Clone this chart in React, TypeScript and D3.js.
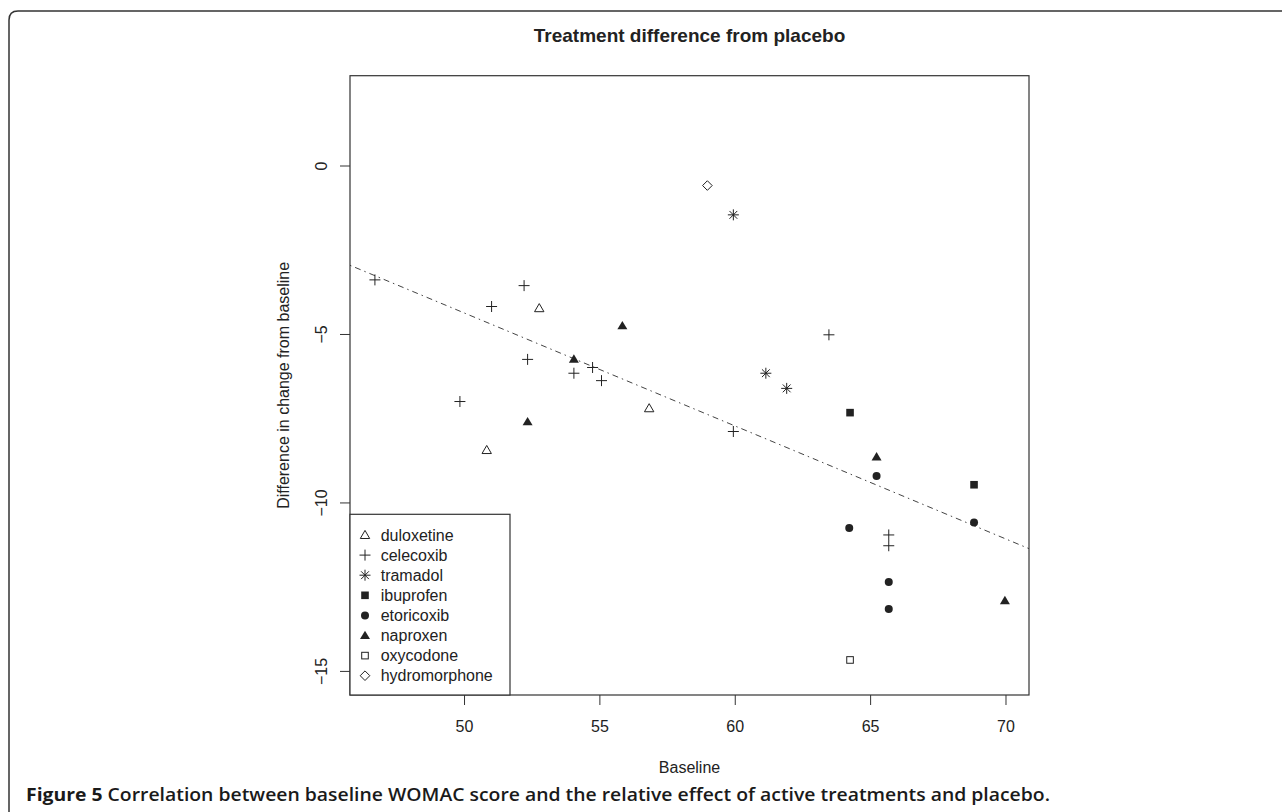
import * as d3 from 'd3';

// plot limits (R style, 4% padding already included)
const xLim = [45.77, 70.85];
const yLim = [-15.7, 2.68];
const xTicks = [50, 55, 60, 65, 70];
const yTicks = [0, -5, -10, -15];

// fitted line  y = a + b * x
const fitIntercept = 12.4;
const fitSlope = -0.3353;

const seriesNames = ['duloxetine', 'celecoxib', 'tramadol', 'ibuprofen', 'etoricoxib', 'naproxen', 'oxycodone', 'hydromorphone'];
const seriesShapes = ['triangleOpen', 'plus', 'asterisk', 'squareFilled', 'circleFilled', 'triangleFilled', 'squareOpen', 'diamondOpen'];

const duloxetine = [[52.76, -4.22], [56.82, -7.19], [50.82, -8.43]];
const celecoxib = [
  [46.69, -3.38], [51.0, -4.17], [52.2, -3.55], [52.33, -5.74], [54.04, -6.15],
  [54.73, -5.98], [55.06, -6.37], [49.83, -6.99], [63.46, -5.01], [59.93, -7.88],
  [65.67, -10.95], [65.67, -11.27],
];
const tramadol = [[59.93, -1.45], [61.13, -6.15], [61.9, -6.6]];
const ibuprofen = [[64.24, -7.32], [68.82, -9.46]];
const etoricoxib = [[65.22, -9.2], [68.82, -10.58], [64.21, -10.74], [65.67, -12.35], [65.67, -13.15]];
const naproxen = [[55.83, -4.74], [54.04, -5.73], [52.33, -7.59], [65.22, -8.63], [69.96, -12.9]];
const oxycodone = [[64.24, -14.66]];
const hydromorphone = [[58.97, -0.58]];

const seriesData = [duloxetine, celecoxib, tramadol, ibuprofen, etoricoxib, naproxen, oxycodone, hydromorphone];

const INK = '#222';
const PLOT = { left: 350, right: 1029, top: 75.7, bottom: 695 };

function Marker({ shape, x, y }: { shape: string; x: number; y: number }) {
  const t = `translate(${x},${y})`;
  switch (shape) {
    case 'triangleOpen':
      return <path transform={t} d="M0,-4.6L4.7,3.5L-4.7,3.5Z" fill="none" stroke={INK} strokeWidth={1} />;
    case 'triangleFilled':
      return <path transform={t} d="M0,-4.8L5,3.6L-5,3.6Z" fill={INK} />;
    case 'plus':
      return <path transform={t} d="M-5.5,0H5.5M0,-5.5V5.5" stroke={INK} strokeWidth={1} fill="none" />;
    case 'asterisk':
      return (
        <path
          transform={t}
          d="M-5.5,0H5.5M0,-5.5V5.5M-3.9,-3.9L3.9,3.9M-3.9,3.9L3.9,-3.9"
          stroke={INK}
          strokeWidth={1}
          fill="none"
        />
      );
    case 'squareFilled':
      return <rect x={x - 3.8} y={y - 3.8} width={7.6} height={7.6} fill={INK} />;
    case 'squareOpen':
      return <rect x={x - 3.3} y={y - 3.3} width={6.6} height={6.6} fill="none" stroke={INK} strokeWidth={1} />;
    case 'circleFilled':
      return <circle cx={x} cy={y} r={4} fill={INK} />;
    case 'diamondOpen':
      return <path transform={t} d="M0,-4.8L4.8,0L0,4.8L-4.8,0Z" fill="none" stroke={INK} strokeWidth={1} />;
    default:
      return null;
  }
}

export default function App() {
  const x = d3.scaleLinear().domain(xLim).range([PLOT.left, PLOT.right]);
  const y = d3.scaleLinear().domain(yLim).range([PLOT.bottom, PLOT.top]);

  const fitLine = d3.line<number>()
    .x(v => x(v))
    .y(v => y(fitIntercept + fitSlope * v));

  const fmt = (v: number) => (v < 0 ? '\u2212' + Math.abs(v) : String(v));
  const font = '"Liberation Sans", Arial, sans-serif';

  const legend = { left: PLOT.left, top: 514.3, right: 510, bottom: PLOT.bottom, row: 20.1 };

  return (
    <svg
      width={1282}
      height={812}
      style={{ position: 'absolute', left: 0, top: 0, background: '#fff' }}
      fontFamily={font}
    >
      <rect width={1282} height={812} fill="#fff" />
      {/* figure frame */}
      <path d="M9,812V20Q9,11 18,11H1282" fill="none" stroke="#333" strokeWidth={1.5} />

      <text x={(PLOT.left + PLOT.right) / 2} y={42} textAnchor="middle" fontSize={19} fontWeight="bold" fill={INK}>
        Treatment difference from placebo
      </text>

      <defs>
        <clipPath id="plotClip">
          <rect x={PLOT.left} y={PLOT.top} width={PLOT.right - PLOT.left} height={PLOT.bottom - PLOT.top} />
        </clipPath>
      </defs>

      <path
        d={fitLine(xLim) || ''}
        clipPath="url(#plotClip)"
        fill="none"
        stroke="#444"
        strokeWidth={1}
        strokeDasharray="1.5 4 6 4"
      />

      {seriesData.map((pts, i) =>
        pts.map((p, j) => <Marker key={`${i}-${j}`} shape={seriesShapes[i]} x={x(p[0])} y={y(p[1])} />)
      )}

      {/* plot box */}
      <rect
        x={PLOT.left}
        y={PLOT.top}
        width={PLOT.right - PLOT.left}
        height={PLOT.bottom - PLOT.top}
        fill="none"
        stroke="#333"
        strokeWidth={1.2}
      />

      {/* x axis */}
      {xTicks.map(t => (
        <g key={t}>
          <line x1={x(t)} x2={x(t)} y1={PLOT.bottom} y2={PLOT.bottom + 10} stroke="#333" />
          <text x={x(t)} y={726} textAnchor="middle" dominantBaseline="central" fontSize={16} fill={INK}>
            {fmt(t)}
          </text>
        </g>
      ))}
      <text x={(PLOT.left + PLOT.right) / 2} y={767} textAnchor="middle" dominantBaseline="central" fontSize={16} fill={INK}>
        Baseline
      </text>

      {/* y axis */}
      {yTicks.map(t => (
        <g key={t}>
          <line x1={PLOT.left - 10} x2={PLOT.left} y1={y(t)} y2={y(t)} stroke="#333" />
          <text
            transform={`translate(321.7,${y(t)}) rotate(-90)`}
            textAnchor="middle"
            dominantBaseline="central"
            fontSize={16}
            fill={INK}
          >
            {fmt(t)}
          </text>
        </g>
      ))}
      <text
        transform={`translate(283,${(PLOT.top + PLOT.bottom) / 2}) rotate(-90)`}
        textAnchor="middle"
        dominantBaseline="central"
        fontSize={16}
        fill={INK}
      >
        Difference in change from baseline
      </text>

      {/* legend */}
      <rect
        x={legend.left}
        y={legend.top}
        width={legend.right - legend.left}
        height={legend.bottom - legend.top}
        fill="#fff"
        stroke="#333"
        strokeWidth={1.2}
      />
      {seriesNames.map((name, i) => {
        const cy = 535 + i * legend.row;
        return (
          <g key={name}>
            <Marker shape={seriesShapes[i]} x={365} y={cy} />
            <text x={380.7} y={cy} dominantBaseline="central" fontSize={16} fill={INK}>
              {name}
            </text>
          </g>
        );
      })}

      {/* caption */}
      <text
        x={26}
        y={801}
        fontSize={18.5}
        fill="#1a1a1a"
        fontFamily='"Open Sans", sans-serif'
        textLength={1024}
        lengthAdjust="spacingAndGlyphs"
      >
        <tspan fontWeight="bold">Figure 5</tspan>
        <tspan fontWeight={600}> Correlation between baseline WOMAC score and the relative effect of active treatments and placebo.</tspan>
      </text>
    </svg>
  );
}
